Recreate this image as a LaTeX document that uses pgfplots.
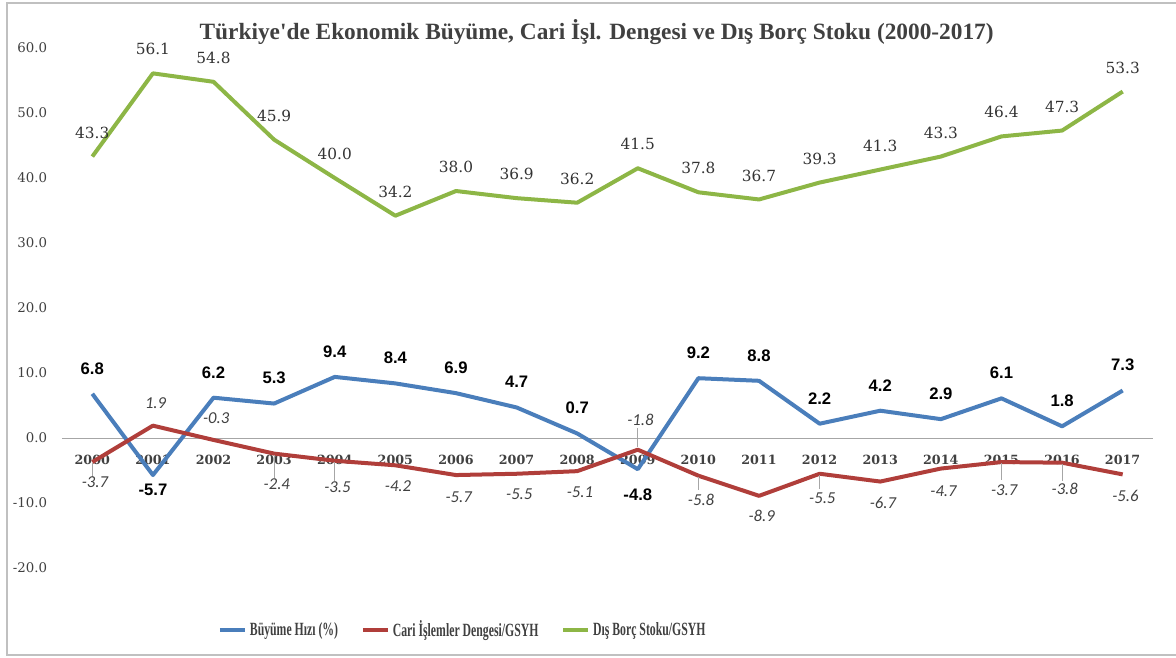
\documentclass[border=0pt]{standalone}
\usepackage{fontspec}
\setmainfont{Liberation Serif}
\newfontfamily\titlefont{Liberation Serif}[Ligatures=TeXOff]
\newfontfamily\tickfont{DejaVu Serif}
\newfontfamily\legfont{Liberation Serif}[FakeStretch=0.63]
\newfontfamily\bluefont{Liberation Sans}
\newfontfamily\redfont{Carlito}
\usepackage{pgfplots}
\pgfplotsset{compat=1.18}
\usepackage{pgfplotstable}

\definecolor{cBlue}{HTML}{4A7EBB}
\definecolor{cRed}{HTML}{B03E3A}
\definecolor{cGreen}{HTML}{8DB646}
\definecolor{txt}{HTML}{404040}
\definecolor{lbl}{HTML}{333333}
\definecolor{frame}{HTML}{C0C0C0}
\definecolor{axisgray}{HTML}{A6A6A6}

% year, value, label offset (pt)
\pgfplotstableread{
year val dy
2000 6.8 19
2001 -5.7 -11
2002 6.2 19
2003 5.3 19
2004 9.4 19
2005 8.4 19
2006 6.9 19
2007 4.7 19
2008 0.7 19
2009 -4.8 -19.5
2010 9.2 19
2011 8.8 19
2012 2.2 19
2013 4.2 19
2014 2.9 19
2015 6.1 19
2016 1.8 19
2017 7.3 19
}\buyume

\pgfplotstableread{
year val dy
2000 -3.7 -15
2001 1.9 17
2002 -0.3 16.5
2003 -2.4 -23
2004 -3.5 -20
2005 -4.2 -16
2006 -5.7 -16.5
2007 -5.5 -15
2008 -5.1 -15.5
2009 -1.8 22.5
2010 -5.8 -18
2011 -8.9 -15
2012 -5.5 -18
2013 -6.7 -16
2014 -4.7 -17
2015 -3.7 -21
2016 -3.8 -19.5
2017 -5.6 -16.5
}\cari

% leader lines of the current account labels: start, length
\pgfplotstableread{
year y0 v
2000 -3.9 -2.15
2003 -2.6 -3.55
2004 -3.7 -2.9
2009 1.5 -2.9
2010 -6.0 -2.0
2012 -5.7 -2.15
2015 -3.9 -2.55
2016 -4.0 -2.6
}\leader

\pgfplotstableread{
year val dy
2000 43.3 18
2001 56.1 18
2002 54.8 18
2003 45.9 18
2004 40.0 18
2005 34.2 18
2006 38.0 18
2007 36.9 18
2008 36.2 18
2009 41.5 18
2010 37.8 18
2011 36.7 18
2012 39.3 18
2013 41.3 18
2014 43.3 18
2015 46.4 18
2016 47.3 18
2017 53.3 18
}\borc

\begin{document}
\begin{tikzpicture}
\useasboundingbox (-46.5pt,-66.75pt) rectangle (835.5pt,426pt);
\draw[frame, line width=1.5pt] (840pt,423.75pt) -- (-41.25pt,423.75pt) -- (-41.25pt,-65.25pt) -- (840pt,-65.25pt);
\begin{axis}[
    scale only axis,
    width=818.25pt, height=390pt,
    xmin=1999.5, xmax=2017.5,
    ymin=-20, ymax=60,
    axis x line=middle, axis y line=left,
    x axis line style={-, draw=axisgray, line width=0.75pt},
    y axis line style={draw=none},
    xtick={2000,...,2017},
    ytick={-20,-10,...,60},
    major tick length=0pt,
    clip=false,
    xticklabel style={font=\tickfont\bfseries\fontsize{9.5}{11}\selectfont, text=txt,
        anchor=center, yshift=-16.5pt,
        /pgf/number format/1000 sep={}, /pgf/number format/assume math mode=true},
    yticklabel style={font=\tickfont\fontsize{10}{12}\selectfont, text=txt,
        anchor=east, inner sep=0pt, xshift=-11pt,
        /pgf/number format/.cd, fixed, fixed zerofill, precision=1, assume math mode=true},
    legend style={draw=none, fill=none, at={(0.139,-0.119)}, anchor=west,
        font=\legfont\bfseries\fontsize{14}{16}\selectfont, text=txt,
        /tikz/every even column/.append style={column sep=15pt}},
    legend columns=3,
    legend cell align=left,
    legend image code/.code={\draw[#1, line width=3pt] (0pt,0pt) -- (19pt,0pt);},
]
\addplot[cBlue, line width=3pt, line join=round,
    visualization depends on={\thisrow{dy} \as \dy},
    nodes near coords={\pgfmathprintnumber[fixed,fixed zerofill,precision=1,assume math mode=true]{\pgfplotspointmeta}},
    every node near coord/.append style={anchor=center, yshift=\dy pt,
        font=\bluefont\bfseries\fontsize{12.5}{14}\selectfont, text=black}]
    table[x=year, y=val] {\buyume};
\addlegendentry{Büyüme Hızı (\%)}
\addplot[cRed, line width=3pt, line join=round,
    visualization depends on={\thisrow{dy} \as \dy},
    nodes near coords={\pgfmathprintnumber[fixed,fixed zerofill,precision=1,assume math mode=true]{\pgfplotspointmeta}},
    every node near coord/.append style={anchor=center, yshift=\dy pt, xshift=2pt,
        font=\redfont\itshape\fontsize{12.5}{14}\selectfont, text=txt}]
    table[x=year, y=val] {\cari};
\addlegendentry{Cari İşlemler Dengesi/GSYH}
\addplot[cGreen, line width=3pt, line join=round,
    visualization depends on={\thisrow{dy} \as \dy},
    nodes near coords={\pgfmathprintnumber[fixed,fixed zerofill,precision=1,assume math mode=true]{\pgfplotspointmeta}},
    every node near coord/.append style={anchor=center, yshift=\dy pt,
        font=\tickfont\fontsize{11.5}{13}\selectfont, text=lbl}]
    table[x=year, y=val] {\borc};
\addlegendentry{Dış Borç Stoku/GSYH}
\addplot[axisgray, line width=0.6pt, forget plot,
    quiver={u=0, v=\thisrow{v}}]
    table[x=year, y=y0] {\leader};
\end{axis}
\node[font=\titlefont\bfseries\fontsize{17.5}{20}\selectfont, text=txt] at (401pt,402pt)
    {Türkiye'de Ekonomik Büyüme, Cari İşl. Dengesi ve Dış Borç Stoku (2000-2017)};
\end{tikzpicture}
\end{document}
